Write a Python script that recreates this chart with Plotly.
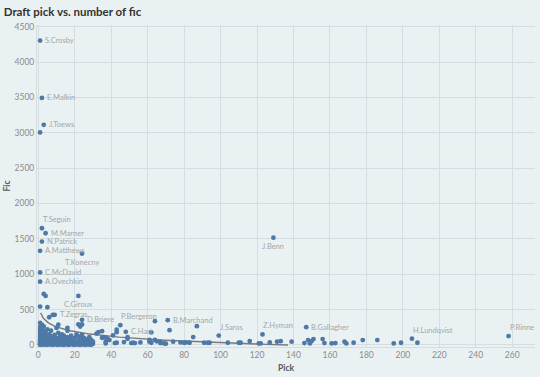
import numpy as np
import plotly.graph_objects as go

# ---------------- data ----------------
# labelled players
label_names = ["S.Crosby", "E.Malkin", "J.Toews", "T.Seguin", "M.Marner", "N.Patrick",
               "A.Matthews", "T.Konecny", "C.McDavid", "A.Ovechkin", "C.Giroux", "T.Zegras",
               "D.Briere", "P.Bergeron", "B.Marchand", "C.Hart", "J.Saros", "Z.Hyman",
               "J.Benn", "B.Gallagher", "H.Lundqvist", "P.Rinne"]
label_picks = [1, 2, 3, 2, 4, 2, 1, 24, 1, 1, 22, 9, 24, 45, 71, 48, 99, 123, 129, 147, 205, 258]
label_fic = [4304, 3493, 3113, 1650, 1579, 1461, 1330, 1292, 1025, 894, 692, 425, 355, 279,
             349, 185, 132, 148, 1517, 251, 88, 125]

# unlabelled players
other_picks = [
    1, 3, 4, 1, 5, 8, 6, 22, 24, 11, 16, 64, 72, 87, 62, 33, 35, 43, 43, 41, 37, 38, 35, 32,
    # pick 1-30 cluster
    1, 1, 1, 1, 1, 1, 1, 1, 1, 1, 1, 1, 1,
    2, 2, 2, 2, 2, 2, 2, 2,
    3, 3, 3, 3, 3, 3, 3,
    4, 4, 4, 4, 4,
    5, 5, 5, 5, 5,
    6, 6, 6, 6,
    7, 7, 7, 7, 7,
    8, 8, 8, 8,
    9, 9, 9,
    10, 10, 10, 10, 10,
    11, 11, 11, 11,
    12, 12, 12, 12,
    13, 13, 13, 13,
    14, 14, 14, 14,
    15, 15, 15,
    16, 16, 16, 16,
    17, 17, 17,
    18, 18, 18,
    19, 19, 19,
    20, 20, 20, 20,
    21, 21, 21,
    22, 22, 22, 22,
    23, 23, 23, 23, 23,
    24, 24, 24, 24,
    25, 25, 25, 25,
    26, 26, 26,
    27, 27, 27,
    28, 28, 28,
    29, 29, 29,
    30, 30,
    # picks 30-130
    37, 37, 39, 36, 42, 43, 47, 49, 49, 51, 52, 53, 56, 61, 61, 62, 64, 65, 67, 67, 69, 70, 74,
    78, 80, 81, 83, 85, 91, 93, 94, 104, 110, 111, 116, 121, 122, 127, 131, 133, 139,
    # picks 140-210
    146, 148, 149, 150, 151, 156, 157, 161, 163, 168, 169, 173, 178, 186, 195, 199, 208,
]
other_fic = [
    3005, 721, 692, 542, 532, 425, 391, 290, 290, 285, 240, 335, 208, 265, 176, 180, 194, 215, 180, 135, 105, 85, 100, 160,
    # pick 1-30 cluster
    2, 8, 18, 30, 45, 65, 85, 115, 145, 175, 215, 255, 310,
    10, 30, 50, 90, 125, 160, 240, 285,
    3, 20, 45, 75, 105, 200, 260,
    6, 35, 60, 130, 180,
    2, 25, 70, 110, 220,
    10, 40, 90, 150,
    5, 30, 55, 120, 200,
    2, 20, 45, 80,
    10, 35, 140,
    5, 25, 60, 100, 240,
    2, 15, 40, 170,
    10, 30, 70, 120,
    5, 20, 50, 150,
    2, 35, 90, 130,
    10, 25, 60,
    5, 45, 110, 200,
    2, 20, 80,
    15, 40, 130,
    5, 30, 70,
    2, 20, 50, 100,
    10, 35, 150,
    5, 25, 60, 120,
    2, 15, 45, 90, 260,
    10, 30, 70, 140,
    5, 20, 50, 100,
    2, 35, 80,
    10, 25, 60,
    5, 40, 110,
    2, 20, 70,
    15, 45,
    # picks 30-130
    45, 20, 68, 110, 25, 30, 40, 110, 85, 25, 30, 25, 35, 70, 45, 30, 70, 50, 45, 25, 20, 17, 45,
    35, 30, 35, 30, 110, 30, 30, 30, 30, 30, 30, 54, 20, 20, 35, 45, 53, 45,
    # picks 140-210
    26, 68, 21, 54, 82, 82, 26, 21, 26, 45, 21, 30, 68, 68, 21, 30, 30,
]

# logarithmic trend line: fic = intercept + slope * ln(pick)
trend_intercept = 479
trend_slope = -97.5
trend_pick_range = [1.3, 137]

x_ticks = [0, 20, 40, 60, 80, 100, 120, 140, 160, 180, 200, 220, 240, 260]
y_ticks = [0, 500, 1000, 1500, 2000, 2500, 3000, 3500, 4000, 4500]

# label placement style (not data)
label_pos = {
    "T.Seguin": "above", "T.Konecny": "below", "C.Giroux": "below", "J.Benn": "below",
    "P.Bergeron": "above", "J.Saros": "above", "Z.Hyman": "above", "H.Lundqvist": "above",
    "P.Rinne": "above",
}

# ---------------- figure ----------------
BLUE = "#4e79a7"
BG = "#e9f1f2"
GRID = "#d5dde0"
FONT = "Lato"

all_picks = np.array(label_picks + other_picks, dtype=float)
all_fic = np.array(label_fic + other_fic, dtype=float)

tx = np.linspace(trend_pick_range[0], trend_pick_range[1], 300)
ty = trend_intercept + trend_slope * np.log(tx)

fig = go.Figure()
fig.add_trace(go.Scatter(x=tx, y=ty, mode="lines",
                         line=dict(color="#7a7a7a", width=1.4), hoverinfo="skip"))
fig.add_trace(go.Scatter(x=all_picks, y=all_fic, mode="markers",
                         marker=dict(color=BLUE, size=4.8, line=dict(width=0)),
                         cliponaxis=False))

for name, px, fy in zip(label_names, label_picks, label_fic):
    pos = label_pos.get(name, "right")
    if pos == "right":
        kw = dict(xanchor="left", yanchor="middle", xshift=3, yshift=0)
    elif pos == "above":
        kw = dict(xanchor="left", yanchor="bottom", xshift=-1, yshift=2)
    else:
        kw = dict(xanchor="center", yanchor="top", xshift=0, yshift=-2)
    fig.add_annotation(x=px, y=fy, text=name, showarrow=False,
                       font=dict(family=FONT, size=7.5, color="#a3a7a9"), **kw)

fig.update_layout(
    width=540, height=377,
    margin=dict(l=37, r=5, t=25, b=30, autoexpand=False),
    paper_bgcolor=BG, plot_bgcolor=BG,
    showlegend=False,
    title=dict(text="<b>Draft pick vs. number of fic</b>", x=0.007, xanchor="left",
               xref="container", y=0.968, yanchor="middle", yref="container",
               font=dict(family=FONT, size=11.5, color="#333333")),
    font=dict(family=FONT),
)
fig.update_xaxes(range=[-0.7, 272.5], tickvals=x_ticks, showgrid=True, gridcolor=GRID,
                 gridwidth=1, zeroline=False, showline=True, linecolor=GRID,
                 automargin=False,
                 tickfont=dict(size=8.5, color="#8c8c8c"), ticks="",
                 title=dict(text="<b>Pick</b>", font=dict(size=8.5, color="#555555"), standoff=5))
fig.update_yaxes(range=[-30, 4525], tickvals=y_ticks, showgrid=True, gridcolor=GRID,
                 gridwidth=1, zeroline=False, showline=True, linecolor=GRID,
                 automargin=False,
                 tickfont=dict(size=8.5, color="#8c8c8c"), ticks="",
                 title=dict(text="<b>Fic</b>", font=dict(size=8.5, color="#555555"), standoff=2))

fig.write_html("out.html", config={"displayModeBar": False},
               post_script="document.body.style.margin='0';document.body.style.overflow='hidden';")
